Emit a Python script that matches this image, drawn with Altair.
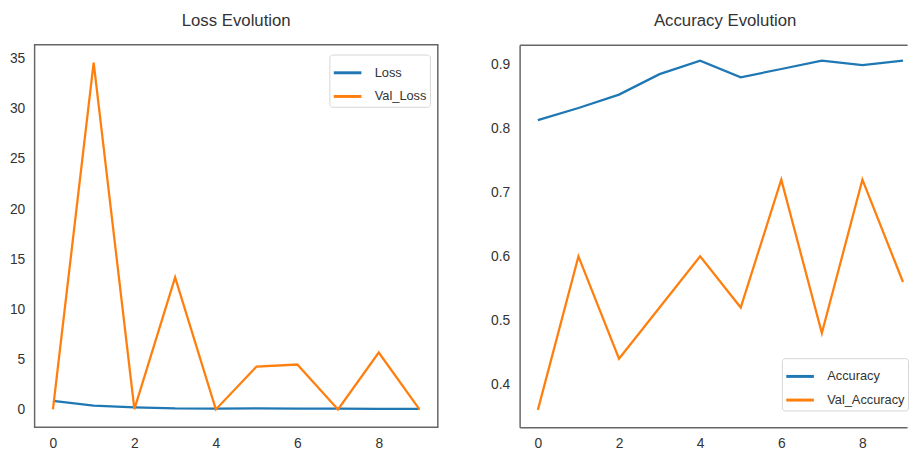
import altair as alt
import pandas as pd

FONT = "Liberation Sans, Arial, sans-serif"

epochs = list(range(10))
loss = [0.88, 0.39, 0.23, 0.12, 0.10, 0.12, 0.10, 0.09, 0.07, 0.07]
val_loss = [0.03, 34.6, 0.05, 13.2, 0.02, 4.3, 4.5, 0.02, 5.7, 0.02]
accuracy = [0.813, 0.832, 0.853, 0.885, 0.906, 0.880, 0.893, 0.906, 0.899, 0.906]
val_accuracy = [0.36, 0.60, 0.44, 0.52, 0.60, 0.52, 0.72, 0.48, 0.72, 0.56]

loss_names = ["Loss", "Val_Loss"]
acc_names = ["Accuracy", "Val_Accuracy"]
colors = ["#1f77b4", "#ff7f0e"]

loss_df = pd.DataFrame({
    "epoch": epochs * 2,
    "value": loss + val_loss,
    "series": [loss_names[0]] * 10 + [loss_names[1]] * 10,
})
acc_df = pd.DataFrame({
    "epoch": epochs * 2,
    "value": accuracy + val_accuracy,
    "series": [acc_names[0]] * 10 + [acc_names[1]] * 10,
})

x_ticks = [0, 2, 4, 6, 8]
FRAME = "#666666"
H = 388

# ---- left panel: Loss ----
left = alt.Chart(loss_df).mark_line(strokeWidth=2.3).encode(
    x=alt.X("epoch:Q",
            scale=alt.Scale(domain=[-0.45, 9.45], nice=False, zero=False),
            axis=alt.Axis(values=x_ticks, title=None, format="d")),
    y=alt.Y("value:Q",
            scale=alt.Scale(domain=[-1.75, 36.4], nice=False, zero=False),
            axis=alt.Axis(values=[0, 5, 10, 15, 20, 25, 30, 35], title=None,
                          format="d", minExtent=25)),
    color=alt.Color("series:N",
                    scale=alt.Scale(domain=loss_names, range=colors),
                    legend=alt.Legend(title=None, orient="none",
                                      legendX=299, legendY=10)),
).properties(width=409, height=H, title="Loss Evolution")

# ---- right panel: Accuracy (clipped at the right edge) ----
xscale_r = alt.Scale(domain=[-0.45, 9.1], nice=False, zero=False)
acc_line = alt.Chart(acc_df).mark_line(strokeWidth=2.3, clip=True).encode(
    x=alt.X("epoch:Q", scale=xscale_r,
            axis=alt.Axis(values=x_ticks, title=None, format="d",
                          domain=True, domainColor=FRAME, domainWidth=1.5)),
    y=alt.Y("value:Q",
            scale=alt.Scale(domain=[0.333, 0.931], nice=False, zero=False),
            axis=alt.Axis(values=[0.4, 0.5, 0.6, 0.7, 0.8, 0.9], title=None,
                          format=".1f", minExtent=30,
                          domain=True, domainColor=FRAME, domainWidth=1.5)),
    color=alt.Color("series:N",
                    scale=alt.Scale(domain=acc_names, range=colors),
                    legend=alt.Legend(title=None, orient="none",
                                      legendX=266, legendY=318)),
)
acc_top = alt.Chart(acc_df).mark_point(opacity=0).encode(
    x=alt.X("epoch:Q", scale=xscale_r,
            axis=alt.Axis(orient="top", labels=False, ticks=False, title=None,
                          domain=True, domainColor=FRAME, domainWidth=1.5)),
)
right = alt.layer(acc_line, acc_top).resolve_axis(x="independent").properties(
    width=393, height=H,
    title=alt.TitleParams("Accuracy Evolution", dx=12),
    view=alt.ViewBackground(stroke="transparent"),
)

chart = alt.hconcat(left, right, spacing=51, padding=0).resolve_scale(
    color="independent"
).configure_view(
    stroke=FRAME, strokeWidth=1.5
).configure_axis(
    grid=False, ticks=False, domain=False,
    labelFont=FONT, labelFontSize=14, labelColor="#333333", labelPadding=10,
).configure_legend(
    symbolType="stroke", symbolSize=784, symbolStrokeWidth=3,
    labelFont=FONT, labelFontSize=13, labelColor="#333333", labelOffset=12,
    padding=3, fillColor="white", strokeColor="#d5d5d5", cornerRadius=3,
    rowPadding=1,
).configure_title(
    font=FONT, fontSize=17, fontWeight="normal", color="#333333",
    anchor="middle", offset=15,
)

chart.save("out.html", embed_options={"renderer": "svg", "actions": False})
